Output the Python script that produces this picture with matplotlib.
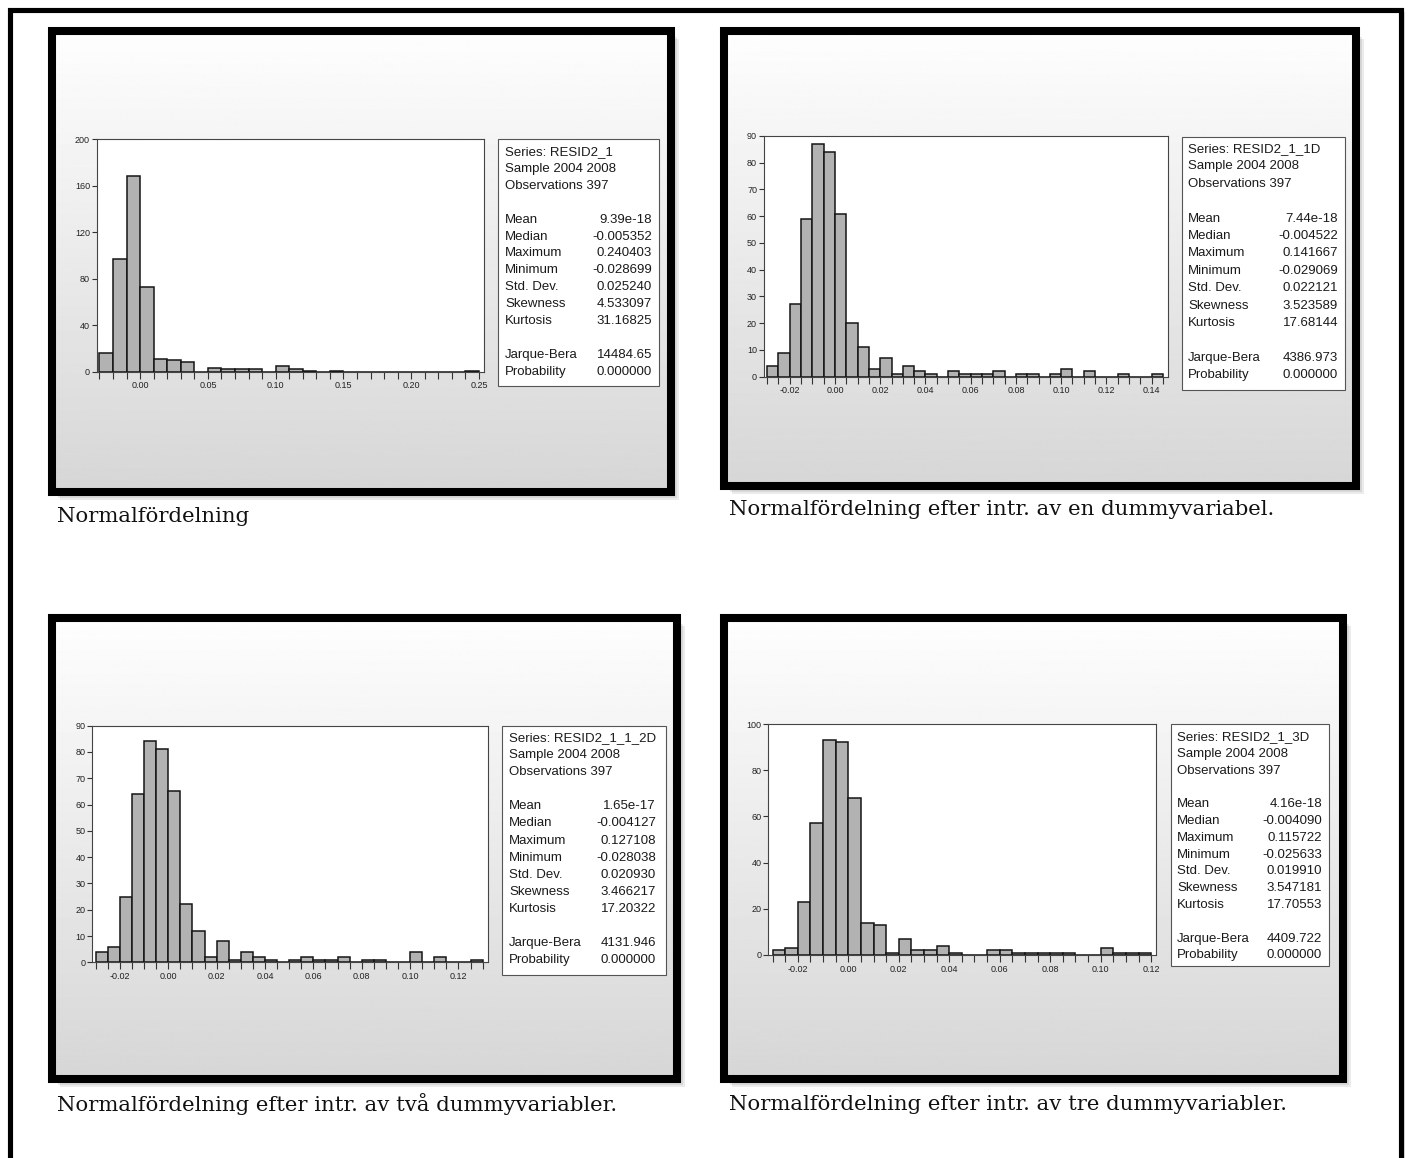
import numpy as np
import matplotlib
matplotlib.use("Agg")
import matplotlib.pyplot as plt
from matplotlib.patches import Rectangle

# ---------------- data ----------------
# panel 1: RESID2_1, bins of 0.01 starting at -0.03
bin_start_1 = -0.03
bin_width_1 = 0.01
counts_1 = [16, 97, 168, 73, 11, 10, 8, 0, 3, 2, 2, 2, 0, 5, 2, 1, 0, 1,
            0, 0, 0, 0, 0, 0, 0, 0, 0, 1]
xticks_1 = [0.00, 0.05, 0.10, 0.15, 0.20, 0.25]
yticks_1 = [0, 40, 80, 120, 160, 200]
stats_1 = ["RESID2_1", "9.39e-18", "-0.005352", "0.240403", "-0.028699",
           "0.025240", "4.533097", "31.16825", "14484.65", "0.000000"]

# panel 2: RESID2_1_1D, bins of 0.005 starting at -0.03
bin_start_2 = -0.03
bin_width_2 = 0.005
counts_2 = [4, 9, 27, 59, 87, 84, 61, 20, 11, 3, 7, 1, 4, 2, 1, 0, 2, 1, 1,
            1, 2, 0, 1, 1, 0, 1, 3, 0, 2, 0, 0, 1, 0, 0, 1]
xticks_2 = [-0.02, 0.00, 0.02, 0.04, 0.06, 0.08, 0.10, 0.12, 0.14]
yticks_2 = [0, 10, 20, 30, 40, 50, 60, 70, 80, 90]
stats_2 = ["RESID2_1_1D", "7.44e-18", "-0.004522", "0.141667", "-0.029069",
           "0.022121", "3.523589", "17.68144", "4386.973", "0.000000"]

# panel 3: RESID2_1_1_2D
bin_start_3 = -0.03
bin_width_3 = 0.005
counts_3 = [4, 6, 25, 64, 84, 81, 65, 22, 12, 2, 8, 1, 4, 2, 1, 0, 1, 2, 1,
            1, 2, 0, 1, 1, 0, 0, 4, 0, 2, 0, 0, 1]
xticks_3 = [-0.02, 0.00, 0.02, 0.04, 0.06, 0.08, 0.10, 0.12]
yticks_3 = [0, 10, 20, 30, 40, 50, 60, 70, 80, 90]
stats_3 = ["RESID2_1_1_2D", "1.65e-17", "-0.004127", "0.127108", "-0.028038",
           "0.020930", "3.466217", "17.20322", "4131.946", "0.000000"]

# panel 4: RESID2_1_3D
bin_start_4 = -0.03
bin_width_4 = 0.005
counts_4 = [2, 3, 23, 57, 93, 92, 68, 14, 13, 1, 7, 2, 2, 4, 1, 0, 0, 2, 2,
            1, 1, 1, 1, 1, 0, 0, 3, 1, 1, 1]
xticks_4 = [-0.02, 0.00, 0.02, 0.04, 0.06, 0.08, 0.10, 0.12]
yticks_4 = [0, 20, 40, 60, 80, 100]
stats_4 = ["RESID2_1_3D", "4.16e-18", "-0.004090", "0.115722", "-0.025633",
           "0.019910", "3.547181", "17.70553", "4409.722", "0.000000"]

stat_names = ["Mean", "Median", "Maximum", "Minimum", "Std. Dev.",
              "Skewness", "Kurtosis"]
sample_text = "Sample 2004 2008"
obs_text = "Observations 397"

captions = ["Normalfördelning",
            "Normalfördelning efter intr. av en dummyvariabel.",
            "Normalfördelning efter intr. av två dummyvariabler.",
            "Normalfördelning efter intr. av tre dummyvariabler."]

# ---------------- layout ----------------
W, H = 1409, 1158
fig = plt.figure(figsize=(W / 100, H / 100), dpi=100)
fig.patch.set_facecolor("white")


def box(x0, y0, x1, y1):
    return [x0 / W, 1 - y1 / H, (x1 - x0) / W, (y1 - y0) / H]


def frect(x0, y0, x1, y1, **kw):
    r = Rectangle((x0 / W, 1 - y1 / H), (x1 - x0) / W, (y1 - y0) / H,
                  transform=fig.transFigure, **kw)
    fig.patches.append(r)
    return r


# outer page border (bottom runs off the page)
frect(9.5, 10, 1400.5, 1250, fill=False, edgecolor="black", lw=3.7, zorder=5)
for k in (1.5, 3):
    frect(1400.5 + k, 12, 1401 + k + 0.5, 1250, facecolor="black",
          alpha=0.12, edgecolor="none", zorder=1)

LABEL_FONT = ["Liberation Sans", "DejaVu Sans"]
TICK_FONT = ["Liberation Sans Narrow", "Liberation Sans", "DejaVu Sans"]
SERIF = ["DejaVu Serif"]

panels = [
    dict(frame=(52, 31, 670.5, 492), plot=(97, 139.3, 484, 371.7),
         xlim=(-0.0318, 0.2537), ylim=(0, 200), start=bin_start_1,
         width=bin_width_1, counts=counts_1, xt=xticks_1, yt=yticks_1,
         stats=stats_1, sbox=(498, 139, 659, 386), lx=505, rx=652,
         y0=152, dy=16.9, cap=(57, 517)),
    dict(frame=(724, 31, 1355.5, 485.5), plot=(764, 136, 1167.7, 376.7),
         xlim=(-0.0314, 0.1471), ylim=(0, 90), start=bin_start_2,
         width=bin_width_2, counts=counts_2, xt=xticks_2, yt=yticks_2,
         stats=stats_2, sbox=(1182, 137, 1345, 390), lx=1188, rx=1338,
         y0=149, dy=17.4, cap=(729, 509)),
    dict(frame=(52, 618, 676.5, 1079), plot=(92.3, 725.7, 487.7, 962.3),
         xlim=(-0.0314, 0.1321), ylim=(0, 90), start=bin_start_3,
         width=bin_width_3, counts=counts_3, xt=xticks_3, yt=yticks_3,
         stats=stats_3, sbox=(502, 726, 666, 975), lx=509, rx=656,
         y0=738, dy=17.1, cap=(57, 1104)),
    dict(frame=(724, 618, 1343, 1079), plot=(768.3, 724, 1155.7, 955),
         xlim=(-0.0317, 0.1218), ylim=(0, 100), start=bin_start_4,
         width=bin_width_4, counts=counts_4, xt=xticks_4, yt=yticks_4,
         stats=stats_4, sbox=(1171, 724, 1329, 966), lx=1177, rx=1322,
         y0=737, dy=16.8, cap=(729, 1104)),
]

grad = np.linspace(0.995, 0.84, 256).reshape(-1, 1)

for i, p in enumerate(panels):
    x0, y0, x1, y1 = p["frame"]
    # drop shadow
    for k in (2, 4, 6, 8):
        frect(x0 + k, y0 + k, x1 + k, y1 + k, facecolor="black",
              alpha=0.08, edgecolor="none", zorder=-1)
    # gradient background
    bg = fig.add_axes(box(x0, y0, x1, y1), zorder=0)
    bg.imshow(grad, cmap="gray", vmin=0, vmax=1, aspect="auto",
              extent=(0, 1, 0, 1))
    bg.axis("off")
    # thick frame
    frect(x0, y0, x1, y1, fill=False, edgecolor="black", lw=5.8, zorder=2)

    # histogram
    ax = fig.add_axes(box(*p["plot"]), zorder=3)
    ax.set_facecolor("white")
    n = len(p["counts"])
    edges = p["start"] + p["width"] * np.arange(n)
    ax.bar(edges, p["counts"], width=p["width"], align="edge",
           color="#b2b2b2", edgecolor="#151515", linewidth=1.1, zorder=2)
    ax.set_xlim(*p["xlim"])
    ax.set_ylim(*p["ylim"])
    ax.set_yticks(p["yt"])
    ax.set_yticklabels([str(v) for v in p["yt"]], family=TICK_FONT,
                       fontsize=6.5, color="#222222")
    ax.set_xticks(p["xt"])
    ax.set_xticklabels([f"{v:.2f}" for v in p["xt"]], family=TICK_FONT,
                       fontsize=6.5, color="#222222")
    all_edges = p["start"] + p["width"] * np.arange(n + 1)
    ax.set_xticks(all_edges, minor=True)
    ax.tick_params(axis="y", direction="out", length=3.5, width=0.8,
                   pad=1.5, color="#333333")
    ax.tick_params(axis="x", which="both", direction="out", length=5,
                   width=0.8, pad=2, color="#333333")
    for s in ax.spines.values():
        s.set_linewidth(0.8)
        s.set_color("#444444")

    # stats box
    sx0, sy0, sx1, sy1 = p["sbox"]
    frect(sx0, sy0, sx1, sy1, facecolor="white", edgecolor="#555555",
          lw=0.8, zorder=3)
    st = p["stats"]
    rows = [("Series: " + st[0], None), (sample_text, None), (obs_text, None)]
    row_idx = [0, 1, 2]
    for j, name in enumerate(stat_names):
        rows.append((name, st[1 + j]))
        row_idx.append(4 + j)
    rows.append(("Jarque-Bera", st[8]))
    row_idx.append(12)
    rows.append(("Probability", st[9]))
    row_idx.append(13)
    for (lab, val), r in zip(rows, row_idx):
        yy = 1 - (p["y0"] + r * p["dy"]) / H
        fig.text(p["lx"] / W, yy, lab, family=LABEL_FONT, fontsize=9.5,
                 color="#1a1a1a", va="center", ha="left", zorder=4)
        if val is not None:
            fig.text(p["rx"] / W, yy, val, family=LABEL_FONT, fontsize=9.5,
                     color="#1a1a1a", va="center", ha="right", zorder=4)

    # caption
    cx, cy = p["cap"]
    fig.text(cx / W, 1 - cy / H, captions[i], family=SERIF, fontsize=15.3,
             color="#111111", va="center", ha="left", zorder=4)

fig.savefig("out.png", dpi=100, facecolor="white")
